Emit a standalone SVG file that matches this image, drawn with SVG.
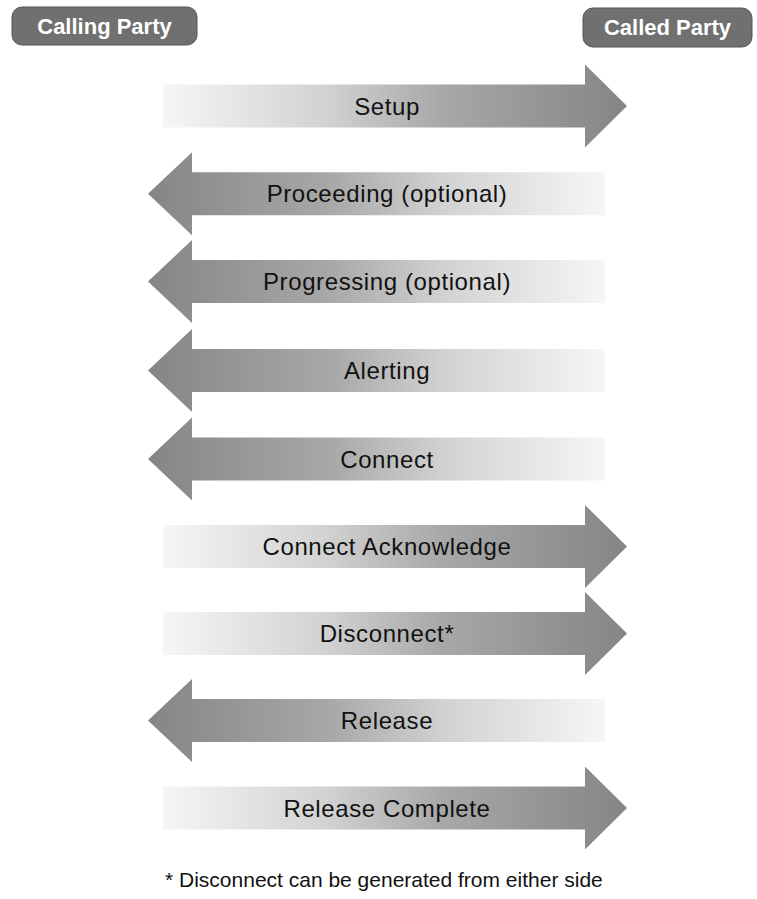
<svg xmlns="http://www.w3.org/2000/svg" xmlns:xlink="http://www.w3.org/1999/xlink" width="757" height="899" viewBox="0 0 757 899">
  <style>
    .lbl { font-family: "Liberation Sans", Arial, sans-serif; font-size: 24px; letter-spacing: 0.6px; fill: #111; text-anchor: middle; }
    .party { font-family: "Liberation Sans", Arial, sans-serif; font-size: 22px; font-weight: bold; fill: #ffffff; text-anchor: middle; }
    .pbox { fill: #707070; stroke: #555; stroke-width: 1; }
    .note { font-family: "Liberation Sans", Arial, sans-serif; font-size: 21px; fill: #111; }
  </style>
  <defs>
    <linearGradient id="gr" gradientUnits="userSpaceOnUse" x1="163" y1="0" x2="627" y2="0">
      <stop offset="0" stop-color="#f6f6f6"/>
      <stop offset="0.35" stop-color="#d2d2d2"/>
      <stop offset="0.6" stop-color="#a8a8a8"/>
      <stop offset="1" stop-color="#858585"/>
    </linearGradient>
    <linearGradient id="gl" gradientUnits="userSpaceOnUse" x1="605" y1="0" x2="148" y2="0">
      <stop offset="0" stop-color="#f6f6f6"/>
      <stop offset="0.35" stop-color="#d2d2d2"/>
      <stop offset="0.6" stop-color="#a8a8a8"/>
      <stop offset="1" stop-color="#858585"/>
    </linearGradient>
    <path id="ra" d="M163,-21.5 L585,-21.5 L585,-41.5 L627,0 L585,41.5 L585,21.5 L163,21.5 Z" fill="url(#gr)"/>
    <path id="la" d="M148,0 L192,-41.5 L192,-21.5 L605,-21.5 L605,21.5 L192,21.5 L192,41.5 Z" fill="url(#gl)"/>
  </defs>
  <rect width="757" height="899" fill="#ffffff"/>

  <g id="calling-party">
    <rect class="pbox" x="12" y="7" width="185" height="38" rx="10"/>
    <text class="party" x="104.5" y="34">Calling Party</text>
  </g>
  <g id="called-party">
    <rect class="pbox" x="583" y="8" width="169" height="39" rx="10"/>
    <text class="party" x="667.5" y="35">Called Party</text>
  </g>

  <g id="connectors">
    <g id="msg-setup" transform="translate(0,106)">
      <use xlink:href="#ra"/>
      <text class="lbl" x="387" y="8.5">Setup</text>
    </g>
    <g id="msg-proceeding" transform="translate(0,193.75)">
      <use xlink:href="#la"/>
      <text class="lbl" x="387" y="8.5">Proceeding (optional)</text>
    </g>
    <g id="msg-progressing" transform="translate(0,281.5)">
      <use xlink:href="#la"/>
      <text class="lbl" x="387" y="8.5">Progressing (optional)</text>
    </g>
    <g id="msg-alerting" transform="translate(0,370.5)">
      <use xlink:href="#la"/>
      <text class="lbl" x="387" y="8.5">Alerting</text>
    </g>
    <g id="msg-connect" transform="translate(0,459)">
      <use xlink:href="#la"/>
      <text class="lbl" x="387" y="8.5">Connect</text>
    </g>
    <g id="msg-connect-ack" transform="translate(0,546.5)">
      <use xlink:href="#ra"/>
      <text class="lbl" x="387" y="8.5">Connect Acknowledge</text>
    </g>
    <g id="msg-disconnect" transform="translate(0,633.5)">
      <use xlink:href="#ra"/>
      <text class="lbl" x="387" y="8.5">Disconnect*</text>
    </g>
    <g id="msg-release" transform="translate(0,720.5)">
      <use xlink:href="#la"/>
      <text class="lbl" x="387" y="8.5">Release</text>
    </g>
    <g id="msg-release-complete" transform="translate(0,808)">
      <use xlink:href="#ra"/>
      <text class="lbl" x="387" y="8.5">Release Complete</text>
    </g>
  </g>

  <g id="footnote">
    <text class="note" x="165" y="887">* Disconnect can be generated from either side</text>
  </g>
</svg>
